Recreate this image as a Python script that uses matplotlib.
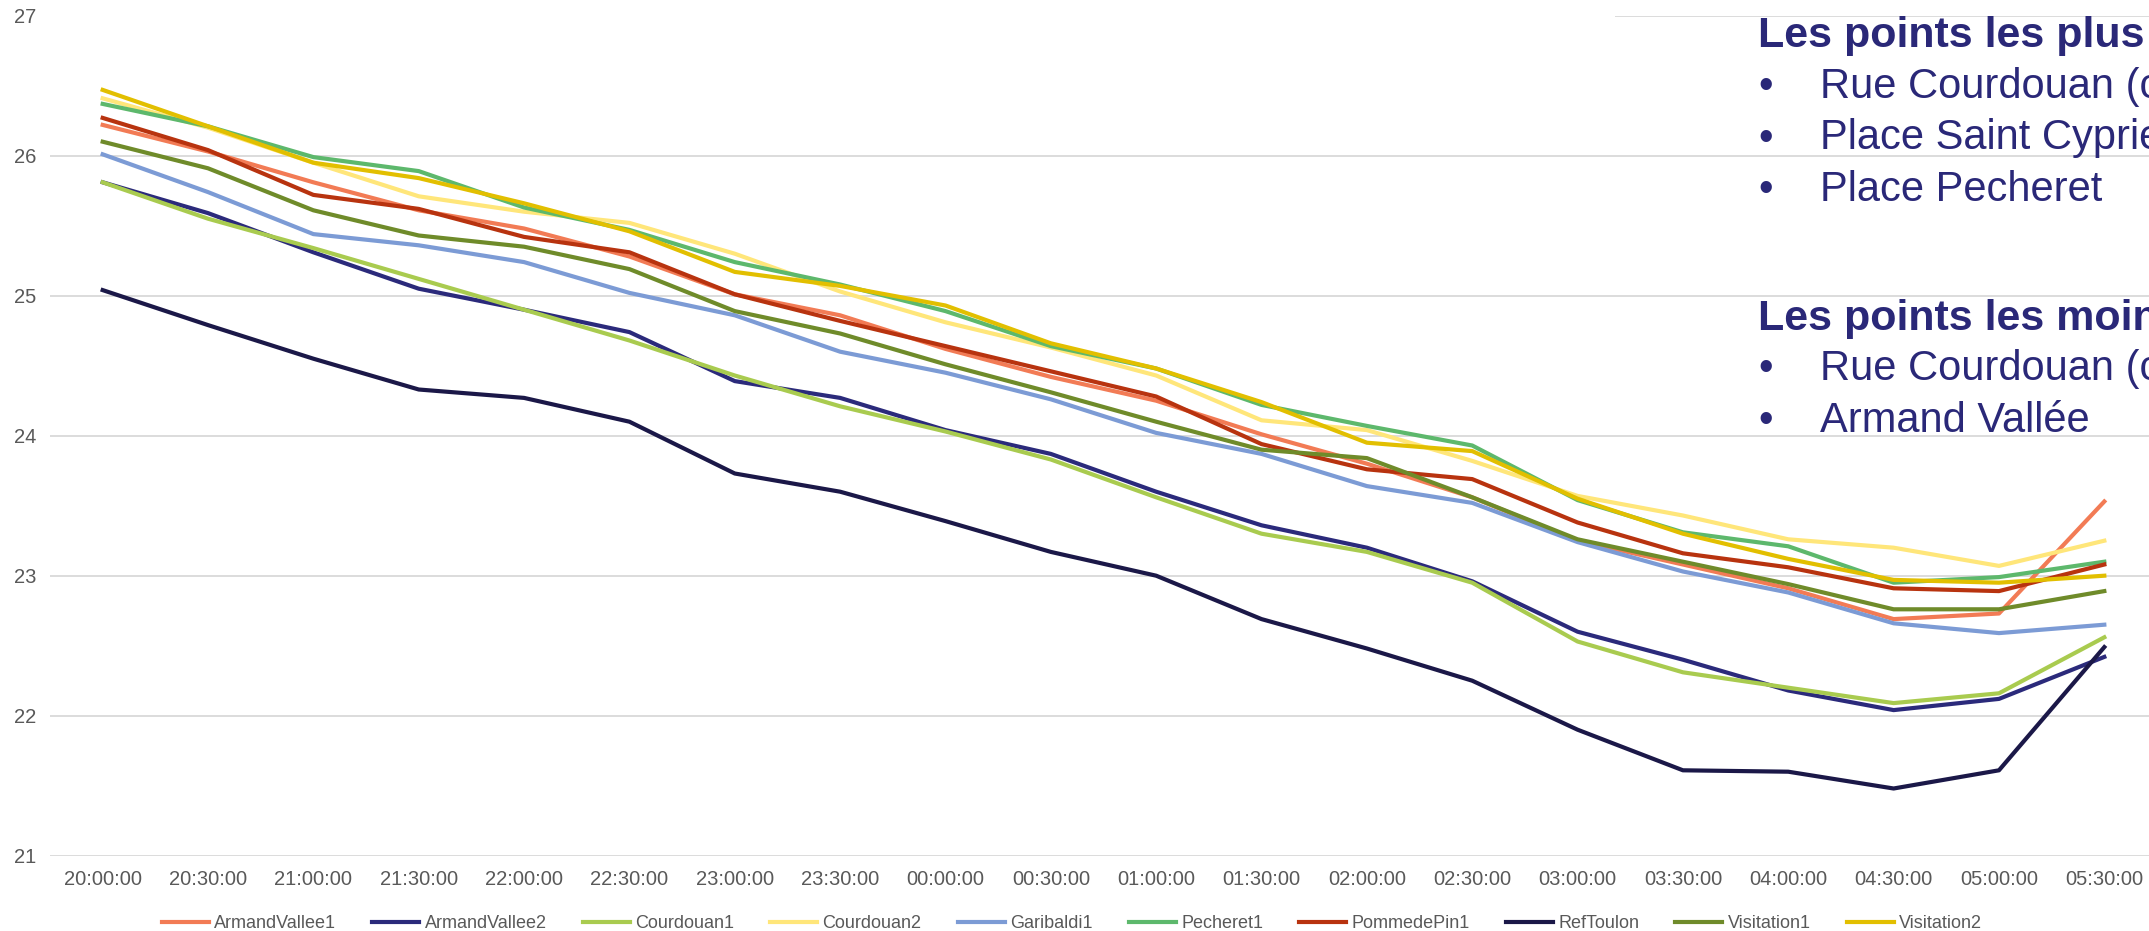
import numpy as np
import matplotlib.pyplot as plt
from matplotlib.patches import Rectangle

plt.rcParams['font.family'] = ['Liberation Sans', 'DejaVu Sans']

# data
times = ['20:00:00', '20:30:00', '21:00:00', '21:30:00', '22:00:00', '22:30:00',
         '23:00:00', '23:30:00', '00:00:00', '00:30:00', '01:00:00', '01:30:00',
         '02:00:00', '02:30:00', '03:00:00', '03:30:00', '04:00:00', '04:30:00',
         '05:00:00', '05:30:00']

armand_vallee1 = [26.22, 26.03, 25.81, 25.61, 25.48, 25.28, 25.01, 24.86, 24.62, 24.42,
                  24.25, 24.01, 23.80, 23.56, 23.25, 23.08, 22.91, 22.69, 22.73, 23.53]
armand_vallee2 = [25.81, 25.59, 25.31, 25.05, 24.90, 24.74, 24.39, 24.27, 24.04, 23.87,
                  23.60, 23.36, 23.20, 22.96, 22.60, 22.40, 22.18, 22.04, 22.12, 22.42]
courdouan1 = [25.81, 25.55, 25.34, 25.12, 24.90, 24.68, 24.43, 24.21, 24.03, 23.83,
              23.56, 23.30, 23.17, 22.95, 22.53, 22.31, 22.20, 22.09, 22.16, 22.56]
courdouan2 = [26.41, 26.20, 25.95, 25.71, 25.60, 25.52, 25.30, 25.03, 24.81, 24.63,
              24.43, 24.11, 24.04, 23.82, 23.57, 23.43, 23.26, 23.20, 23.07, 23.25]
garibaldi1 = [26.01, 25.74, 25.44, 25.36, 25.24, 25.02, 24.86, 24.60, 24.45, 24.26,
              24.02, 23.87, 23.64, 23.52, 23.24, 23.03, 22.88, 22.66, 22.59, 22.65]
pecheret1 = [26.37, 26.21, 25.99, 25.89, 25.63, 25.47, 25.24, 25.08, 24.89, 24.64,
             24.48, 24.22, 24.07, 23.93, 23.54, 23.31, 23.21, 22.95, 22.99, 23.10]
pommedepin1 = [26.27, 26.04, 25.72, 25.62, 25.42, 25.31, 25.01, 24.82, 24.64, 24.46,
               24.28, 23.94, 23.76, 23.69, 23.38, 23.16, 23.06, 22.91, 22.89, 23.08]
ref_toulon = [25.04, 24.79, 24.55, 24.33, 24.27, 24.10, 23.73, 23.60, 23.39, 23.17,
              23.00, 22.69, 22.48, 22.25, 21.90, 21.61, 21.60, 21.48, 21.61, 22.49]
visitation1 = [26.10, 25.91, 25.61, 25.43, 25.35, 25.19, 24.89, 24.73, 24.51, 24.31,
               24.10, 23.90, 23.84, 23.56, 23.26, 23.10, 22.94, 22.76, 22.76, 22.89]
visitation2 = [26.47, 26.21, 25.95, 25.84, 25.66, 25.46, 25.17, 25.07, 24.93, 24.66,
               24.48, 24.24, 23.95, 23.89, 23.55, 23.30, 23.12, 22.97, 22.95, 23.00]

series = [
    ('ArmandVallee1', armand_vallee1, '#F27B55'),
    ('ArmandVallee2', armand_vallee2, '#2B2A7B'),
    ('Courdouan1', courdouan1, '#A9CB4F'),
    ('Courdouan2', courdouan2, '#FFE67A'),
    ('Garibaldi1', garibaldi1, '#7C9BD5'),
    ('Pecheret1', pecheret1, '#5DB86C'),
    ('PommedePin1', pommedepin1, '#B8330F'),
    ('RefToulon', ref_toulon, '#1B1848'),
    ('Visitation1', visitation1, '#6F8B2A'),
    ('Visitation2', visitation2, '#E2BF00'),
]

W, H = 2149, 931
fig = plt.figure(figsize=(W / 100, H / 100), dpi=100)
ax = fig.add_axes([50 / W, 1 - 855.7 / H, 2107 / W, 840 / H])

x = np.arange(len(times))
for name, vals, col in series:
    ax.plot(x, vals, color=col, lw=3.0, label=name, solid_joinstyle='round')

ax.set_xlim(-0.5, len(times) - 0.5)
ax.set_ylim(21, 27)
ax.set_yticks(range(21, 28))
ax.set_xticks(x)
ax.set_xticklabels(times)
ax.grid(axis='y', color='#D9D9D9', lw=1.3)
ax.set_axisbelow(True)
for s in ax.spines.values():
    s.set_visible(False)
ax.tick_params(axis='both', length=0, labelsize=14.5, colors='#595959')
ax.tick_params(axis='y', pad=10)
ax.tick_params(axis='x', pad=10)

leg = fig.legend(loc='center', bbox_to_anchor=(1072 / W, 1 - 924 / H), ncol=10,
                 frameon=False, fontsize=13, handlelength=2.6, handletextpad=0.3,
                 columnspacing=2.0, borderpad=0, borderaxespad=0)
for t in leg.get_texts():
    t.set_color('#595959')

# title box hides the top gridline on the left
fig.patches.append(Rectangle((45 / W, 1 - 24 / H), (1615 - 45) / W, 24 / H,
                             transform=fig.transFigure, facecolor='white',
                             edgecolor='none', zorder=1))

# side notes
navy = '#2A2878'
tx, bx = 1758 / W, 1758 / W
ix = 1820 / W
fig.text(tx, 1 - 47 / H, 'Les points les plus chauds', fontsize=31,
         fontweight='bold', color=navy, va='baseline')
hot = ['Rue Courdouan (côté mer)', 'Place Saint Cyprien', 'Place Pecheret']
for i, s in enumerate(hot):
    yb = 1 - (98 + 51.5 * i) / H
    fig.text(bx, yb, '•', fontsize=30, color=navy, va='baseline')
    fig.text(ix, yb, s, fontsize=30, color=navy, va='baseline')

fig.text(tx, 1 - 330 / H, 'Les points les moins chauds', fontsize=31,
         fontweight='bold', color=navy, va='baseline')
cool = ['Rue Courdouan (côté ville)', 'Armand Vallée']
for i, s in enumerate(cool):
    yb = 1 - (380 + 51.5 * i) / H
    fig.text(bx, yb, '•', fontsize=30, color=navy, va='baseline')
    fig.text(ix, yb, s, fontsize=30, color=navy, va='baseline')

fig.savefig('out.png', dpi=100)
